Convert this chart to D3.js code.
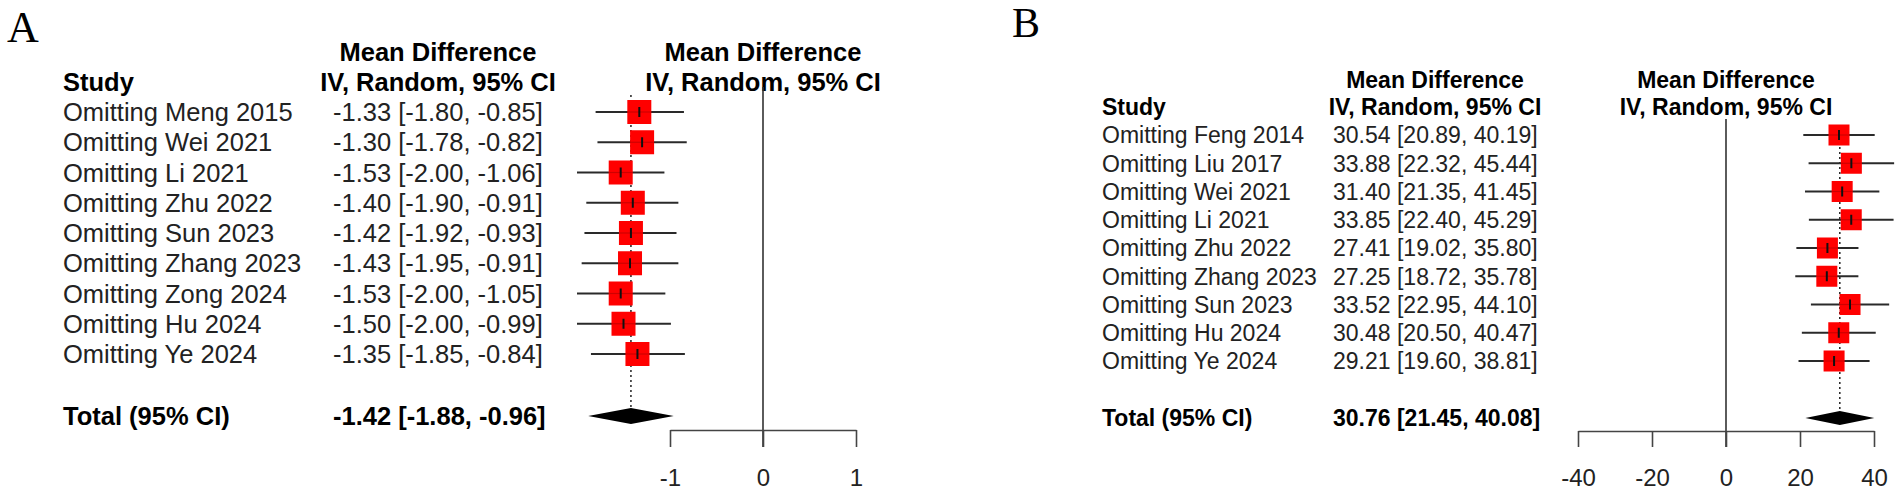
<!DOCTYPE html>
<html>
<head>
<meta charset="utf-8">
<script src="https://cdn.jsdelivr.net/npm/d3@7"></script>
<style>
  body { margin: 0; background: #ffffff; }
  svg { display: block; }
</style>
</head>
<body>
<div id="chart"></div>
<script>
// Sensitivity analysis (leave-one-out) forest plots, panels A and B

// Panel A data
const studiesA = ["Omitting Meng 2015", "Omitting Wei 2021", "Omitting Li 2021", "Omitting Zhu 2022",
    "Omitting Sun 2023", "Omitting Zhang 2023", "Omitting Zong 2024", "Omitting Hu 2024", "Omitting Ye 2024"];
const meanA = [-1.33, -1.30, -1.53, -1.40, -1.42, -1.43, -1.53, -1.50, -1.35];
const lowerA = [-1.80, -1.78, -2.00, -1.90, -1.92, -1.95, -2.00, -2.00, -1.85];
const upperA = [-0.85, -0.82, -1.06, -0.91, -0.93, -0.91, -1.05, -0.99, -0.84];
const totalA = [-1.42, -1.88, -0.96]; // mean, lower, upper
const ticksA = [-1, 0, 1];

// Panel B data
const studiesB = ["Omitting Feng 2014", "Omitting Liu 2017", "Omitting Wei 2021", "Omitting Li 2021",
    "Omitting Zhu 2022", "Omitting Zhang 2023", "Omitting Sun 2023", "Omitting Hu 2024", "Omitting Ye 2024"];
const meanB = [30.54, 33.88, 31.40, 33.85, 27.41, 27.25, 33.52, 30.48, 29.21];
const lowerB = [20.89, 22.32, 21.35, 22.40, 19.02, 18.72, 22.95, 20.50, 19.60];
const upperB = [40.19, 45.44, 41.45, 45.29, 35.80, 35.78, 44.10, 40.47, 38.81];
const totalB = [30.76, 21.45, 40.08];
const ticksB = [-40, -20, 0, 20, 40];

var width = 1901, height = 494;
var font = "'Liberation Sans', Arial, Helvetica, sans-serif";

var svg = d3.select('#chart')
    .append('svg')
    .attr('width', width)
    .attr('height', height)
    .style('background', '#ffffff');

// keep the plain hyphen like the original figure
function fmt(v) { return v.toFixed(2); }
function ciText(m, lo, hi) { return fmt(m) + ' [' + fmt(lo) + ', ' + fmt(hi) + ']'; }

function drawPanel(p) {
    var g = svg.append('g');

    // Panel letter
    g.append('text')
        .attr('x', p.letterX).attr('y', p.letterY)
        .style('font-family', "'Liberation Serif', 'Times New Roman', serif")
        .style('font-size', p.letterSize + 'px')
        .text(p.letter);

    // x scale for the effect sizes
    var x = d3.scaleLinear()
        .domain(d3.extent(p.ticks))
        .range(p.xRange);

    // y positions of the study rows
    var y = d3.scalePoint()
        .domain(p.studies)
        .range(p.yRange);

    var rows = p.studies.map(function(s, i) {
        return { study: s, mean: p.mean[i], lower: p.lower[i], upper: p.upper[i] };
    });

    var bold = { 'font-family': font, 'font-weight': 'bold', 'font-size': p.fs + 'px', 'fill': '#000' };

    // Column headers
    function header(txt, cx, yy, anchor) {
        var t = g.append('text').attr('x', cx).attr('y', yy)
            .attr('text-anchor', anchor || 'middle').text(txt);
        for (var k in bold) t.style(k, bold[k]);
    }
    header('Study', p.nameX, p.headY2, 'start');
    header('Mean Difference', p.ciCenter, p.headY1);
    header('IV, Random, 95% CI', p.ciCenter, p.headY2);
    header('Mean Difference', x(0), p.headY1);
    header('IV, Random, 95% CI', x(0), p.headY2);

    // Study names and CI text
    g.selectAll('.name')
        .data(rows).enter().append('text')
        .attr('class', 'name')
        .attr('x', p.nameX)
        .attr('y', d => y(d.study) + p.fs * 0.36)
        .style('font-family', font).style('font-size', p.fs + 'px').style('fill', '#222')
        .text(d => d.study);

    g.selectAll('.ci')
        .data(rows).enter().append('text')
        .attr('class', 'ci')
        .attr('x', p.ciX)
        .attr('y', d => y(d.study) + p.fs * 0.36)
        .style('font-family', font).style('font-size', p.fs + 'px').style('fill', '#222')
        .text(d => ciText(d.mean, d.lower, d.upper));

    // Total row
    var tot = g.append('text').attr('x', p.nameX).attr('y', p.totalY + p.fs * 0.36).text('Total (95% CI)');
    for (var k in bold) tot.style(k, bold[k]);
    var tot2 = g.append('text').attr('x', p.ciX).attr('y', p.totalY + p.fs * 0.36)
        .text(ciText(p.total[0], p.total[1], p.total[2]));
    for (var k2 in bold) tot2.style(k2, bold[k2]);

    // Line of no effect, running down through the axis tick
    g.append('line')
        .attr('x1', x(0)).attr('x2', x(0))
        .attr('y1', p.zeroTop).attr('y2', p.axisY + p.tickLen)
        .style('stroke', '#333').style('stroke-width', 1.6);

    // Dotted line at the pooled estimate
    g.append('line')
        .attr('x1', x(p.total[0])).attr('x2', x(p.total[0]))
        .attr('y1', p.zeroTop + 8).attr('y2', p.totalY - p.diamondH / 2)
        .style('stroke', '#222').style('stroke-width', 1.5)
        .style('stroke-dasharray', '2,3');

    // CI whiskers
    g.selectAll('.whisker')
        .data(rows).enter().append('line')
        .attr('class', 'whisker')
        .attr('x1', d => x(d.lower)).attr('x2', d => x(d.upper))
        .attr('y1', d => y(d.study)).attr('y2', d => y(d.study))
        .style('stroke', '#2a2a2a').style('stroke-width', 2);

    // Red squares
    g.selectAll('.box')
        .data(rows).enter().append('rect')
        .attr('class', 'box')
        .attr('x', d => x(d.mean) - p.box / 2)
        .attr('y', d => y(d.study) - p.box / 2)
        .attr('width', p.box).attr('height', p.box)
        .style('fill', '#ff0000');

    // line showing through the square
    g.selectAll('.through')
        .data(rows).enter().append('line')
        .attr('class', 'through')
        .attr('x1', d => x(d.mean) - p.box / 2).attr('x2', d => x(d.mean) + p.box / 2)
        .attr('y1', d => y(d.study)).attr('y2', d => y(d.study))
        .style('stroke', '#b00000').style('stroke-width', 1.2).style('opacity', 0.6);

    // small vertical mark at the point estimate
    g.selectAll('.mark')
        .data(rows).enter().append('line')
        .attr('class', 'mark')
        .attr('x1', d => x(d.mean)).attr('x2', d => x(d.mean))
        .attr('y1', d => y(d.study) - 5).attr('y2', d => y(d.study) + 5)
        .style('stroke', '#111').style('stroke-width', 2);

    // Pooled diamond
    var t = p.total;
    g.append('path')
        .attr('d', 'M' + x(t[1]) + ',' + p.totalY +
            'L' + x(t[0]) + ',' + (p.totalY - p.diamondH / 2) +
            'L' + x(t[2]) + ',' + p.totalY +
            'L' + x(t[0]) + ',' + (p.totalY + p.diamondH / 2) + 'Z')
        .style('fill', '#000');

    // Bottom axis
    var axis = g.append('g')
        .attr('transform', 'translate(0,' + p.axisY + ')')
        .call(d3.axisBottom(x)
            .tickValues(p.ticks)
            .tickFormat(d => String(d))
            .tickSize(p.tickLen)
            .tickSizeOuter(0)
            .tickPadding(22));
    axis.select('.domain').style('stroke', '#444').style('stroke-width', 1.6);
    axis.selectAll('.tick line').style('stroke', '#444').style('stroke-width', 1.6);
    axis.selectAll('.tick text')
        .style('font-family', font).style('font-size', '24px').style('fill', '#222');
}

drawPanel({
    letter: 'A', letterX: 7, letterY: 42, letterSize: 44,
    studies: studiesA, mean: meanA, lower: lowerA, upper: upperA, total: totalA, ticks: ticksA,
    xRange: [670, 856], yRange: [112, 354], totalY: 416,
    nameX: 63, ciX: 333, ciCenter: 438, fs: 25.5,
    headY1: 61, headY2: 91, zeroTop: 87,
    axisY: 430, tickLen: 17, box: 24, diamondH: 16
});

drawPanel({
    letter: 'B', letterX: 1012, letterY: 37, letterSize: 42,
    studies: studiesB, mean: meanB, lower: lowerB, upper: upperB, total: totalB, ticks: ticksB,
    xRange: [1578, 1874], yRange: [135, 361], totalY: 418,
    nameX: 1102, ciX: 1333, ciCenter: 1435, fs: 23,
    headY1: 88, headY2: 115, zeroTop: 119,
    axisY: 431, tickLen: 16, box: 21, diamondH: 14
});
</script>
</body>
</html>
